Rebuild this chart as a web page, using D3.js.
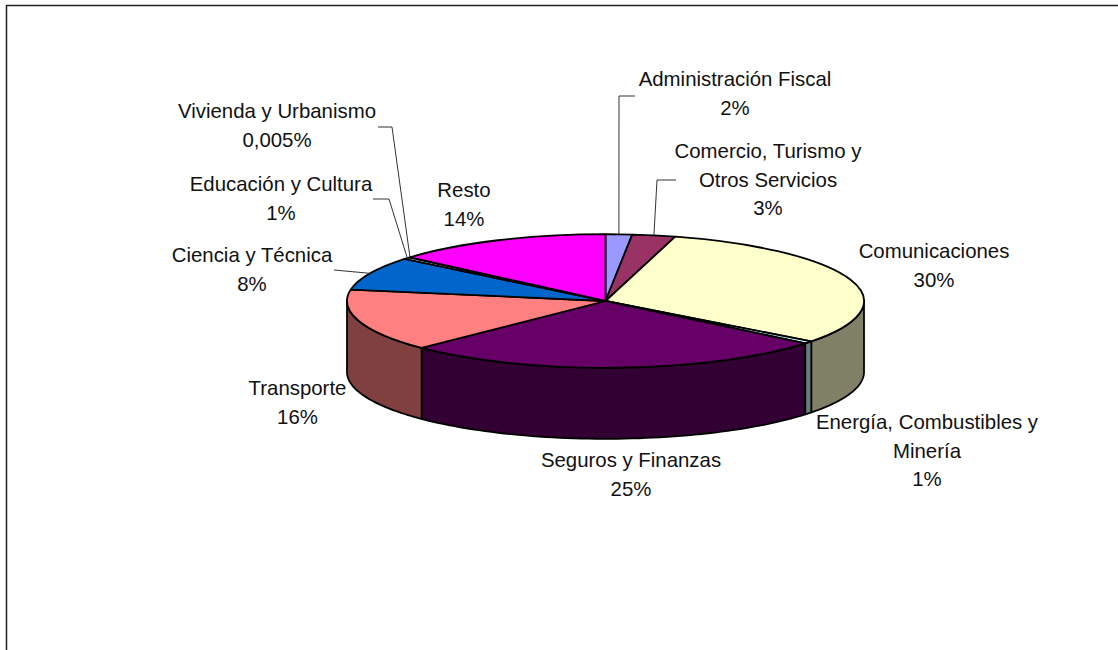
<!DOCTYPE html>
<html><head><meta charset="utf-8">
<style>html,body{margin:0;padding:0;background:#fff}svg{display:block}text{font-family:"Liberation Sans",Arial,sans-serif;font-size:20.4px;fill:#111}</style>
<script src="https://cdn.jsdelivr.net/npm/d3@7"></script>
</head><body><svg id="c" width="1118" height="650"></svg>
<script>
const categories=["Administración Fiscal","Comercio, Turismo y Otros Servicios","Comunicaciones","Energía, Combustibles y Minería","Seguros y Finanzas","Transporte","Ciencia y Técnica","Educación y Cultura","Vivienda y Urbanismo","Resto"];
const values=[1.65,2.7,31,0.6,26.65,15.15,8.1,0.5,0.005,13.65];
const percentLabels=["2%","3%","30%","1%","25%","16%","8%","1%","0,005%","14%"];
const labelLines=[["Administración Fiscal"],["Comercio, Turismo y","Otros Servicios"],["Comunicaciones"],["Energía, Combustibles y","Minería"],["Seguros y Finanzas"],["Transporte"],["Ciencia y Técnica"],["Educación y Cultura"],["Vivienda y Urbanismo"],["Resto"]];
const topColors=["#9999FF","#993366","#FFFFCC","#CCFFFF","#660066","#FF8080","#0066CC","#CCCCFF","#000080","#FF00FF"];
const sideColors=["#4C4C80","#4C1933","#808066","#668080","#330033","#804040","#003366","#666680","#000040","#800080"];
// layout of labels (centre x, first baseline) and leader elbows
const labelPos=[[735,86],[768,158],[934,258],[927,429],[631,467],[297.5,395],[252,262],[281,191],[277,118],[464,197]];
const leaders={0:[[635,96],[619,96]],1:[[676,180],[657,180]],6:[[334,270]],7:[[373,199],[389,199]],8:[[378,127],[392,127]]};
const cx=605.5,cy=301,rx=258.5,ry=66.8,depth=71;

const svg=d3.select("#c");
svg.append("path").attr("d","M6.5,660V5.5H1130").attr("fill","none").attr("stroke","#222").attr("stroke-width",1.5);

const arcs=d3.pie().sort(null).value(d=>d)(values);
const px=a=>cx+rx*Math.sin(a), py=a=>cy-ry*Math.cos(a);
const wall=d3.line();
const lo=Math.PI/2, hi=3*Math.PI/2;
const wallG=svg.append("g");
arcs.forEach((d,i)=>{
  const a0=Math.max(d.startAngle,lo),a1=Math.min(d.endAngle,hi);
  if(a1<=a0)return;
  const ang=d3.range(0,61).map(k=>a0+(a1-a0)*k/60);
  const top=ang.map(a=>[px(a),py(a)]);
  const bot=ang.slice().reverse().map(a=>[px(a),py(a)+depth]);
  wallG.append("path").attr("d",wall(top.concat(bot))+"Z").attr("fill",sideColors[i])
    .attr("stroke","#000").attr("stroke-width",1.8).attr("stroke-linejoin","round");
});
const arc=d3.arc().innerRadius(0).outerRadius(rx);
const topG=svg.append("g").attr("transform",`translate(${cx},${cy}) scale(1,${ry/rx})`);
topG.selectAll("path").data(arcs).join("path").attr("d",arc)
  .attr("fill",(d,i)=>topColors[i]).attr("stroke","#000").attr("stroke-width",1.8)
  .attr("stroke-linejoin","round").attr("vector-effect","non-scaling-stroke");

// leader lines end on the rim at each slice's mid angle
const leaderLine=d3.line();
Object.keys(leaders).forEach(k=>{
  const d=arcs[+k],m=(d.startAngle+d.endAngle)/2;
  svg.append("path").attr("d",leaderLine(leaders[k].concat([[px(m),py(m)]])))
    .attr("fill","none").attr("stroke","#333").attr("stroke-width",1);
});

const lineH=28.5;
categories.forEach((c,i)=>{
  const t=svg.append("text").attr("text-anchor","middle");
  labelLines[i].concat([percentLabels[i]]).forEach((s,j)=>{
    t.append("tspan").attr("x",labelPos[i][0]).attr("y",labelPos[i][1]+j*lineH).text(s);
  });
});
</script></body></html>
